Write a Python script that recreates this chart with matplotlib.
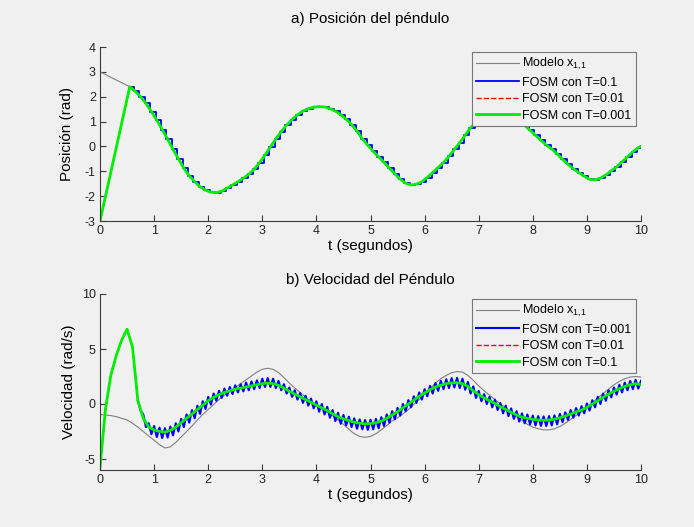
import numpy as np
import matplotlib
matplotlib.use("Agg")
import matplotlib.pyplot as plt
from matplotlib.transforms import offset_copy

plt.rcParams["font.family"] = ["Liberation Sans", "DejaVu Sans"]
plt.rcParams["mathtext.default"] = "regular"
plt.rcParams["axes.unicode_minus"] = False

# ---- a) posicion: t = 0, 0.55, 0.65, ..., 9.95, 10 ----
pos_t = np.r_[0.0, np.round(np.linspace(0.55, 9.95, 95), 2), 10.0]
pos_model_x0 = 3.0
pos_fosm_x0 = -3.0
pos_tail = [
    2.40, 2.22, 2.00, 1.73, 1.40,
    1.06, 0.68, 0.29, -0.12, -0.50, -0.88, -1.18, -1.42, -1.62, -1.76,
    -1.84, -1.86, -1.80, -1.68, -1.55, -1.42, -1.28, -1.12, -0.92, -0.65,
    -0.35, -0.02, 0.30, 0.60, 0.86, 1.08, 1.27, 1.42, 1.52, 1.58,
    1.60, 1.59, 1.52, 1.42, 1.28, 1.10, 0.88, 0.62, 0.30, 0.05,
    -0.20, -0.42, -0.64, -0.88, -1.10, -1.32, -1.48, -1.55, -1.52, -1.42,
    -1.25, -1.05, -0.85, -0.65, -0.40, -0.12, 0.15, 0.45, 0.75, 0.97,
    1.18, 1.32, 1.42, 1.45, 1.44, 1.36, 1.22, 1.05, 0.85, 0.65,
    0.45, 0.25, 0.05, -0.10, -0.30, -0.52, -0.72, -0.90, -1.05, -1.20,
    -1.32, -1.35, -1.28, -1.15, -0.98, -0.82, -0.62, -0.42, -0.22, -0.05,
    0.00,
]
pos_model = [pos_model_x0] + pos_tail
pos_fosm = [pos_fosm_x0] + pos_tail

# ---- b) velocidad: t = 0, 0.1, ..., 10 ----
vel_t = np.round(np.linspace(0, 10, 101), 2)
vel_model = [
    -0.95, -1.00, -1.05, -1.15, -1.30, -1.45, -1.75, -2.10, -2.50, -2.90,
    -3.30, -3.70, -4.00, -3.90, -3.50, -3.00, -2.50, -2.00, -1.45, -0.95,
    -0.50, -0.05, 0.40, 0.80, 1.15, 1.50, 1.85, 2.20, 2.55, 2.90,
    3.15, 3.25, 3.15, 2.85, 2.40, 1.90, 1.45, 1.05, 0.60, 0.20,
    -0.20, -0.45, -0.75, -1.05, -1.45, -1.85, -2.30, -2.70, -2.95, -3.03,
    -2.95, -2.70, -2.35, -1.95, -1.55, -1.25, -0.90, -0.50, -0.05, 0.40,
    0.90, 1.40, 1.90, 2.30, 2.60, 2.85, 2.95, 2.90, 2.60, 2.15,
    1.65, 1.20, 0.80, 0.40, 0.00, -0.35, -0.75, -1.15, -1.50, -1.85,
    -2.10, -2.25, -2.35, -2.35, -2.25, -2.05, -1.75, -1.40, -1.05, -0.70,
    -0.30, 0.10, 0.55, 0.95, 1.35, 1.75, 2.05, 2.30, 2.45, 2.50,
    2.45,
]
vel_fosm_t01 = [
    -5.80, -0.50, 2.60, 4.40, 5.80, 6.80, 5.20, 0.30, -1.30, -2.10,
    -2.35, -2.50, -2.55, -2.40, -2.10, -1.70, -1.30, -0.90, -0.50, -0.10,
    0.30, 0.60, 0.85, 1.05, 1.20, 1.35, 1.45, 1.55, 1.65, 1.75,
    1.85, 1.90, 1.85, 1.70, 1.45, 1.15, 0.90, 0.65, 0.40, 0.15,
    -0.10, -0.35, -0.60, -0.90, -1.15, -1.35, -1.50, -1.65, -1.75, -1.80,
    -1.78, -1.70, -1.55, -1.30, -1.00, -0.70, -0.35, 0.00, 0.35, 0.70,
    1.00, 1.30, 1.55, 1.72, 1.85, 1.92, 1.94, 1.85, 1.60, 1.20,
    0.85, 0.55, 0.30, 0.05, -0.25, -0.50, -0.75, -1.00, -1.20, -1.30,
    -1.40, -1.45, -1.48, -1.45, -1.38, -1.25, -1.10, -0.90, -0.72, -0.55,
    -0.30, 0.00, 0.30, 0.60, 0.90, 1.15, 1.40, 1.60, 1.75, 1.85,
    1.75,
]
# rizado de la estimacion: crestas en t = 0.7, 0.8, ..., 10 y valles en t = 0.75, ..., 9.95
ripple_t0 = 0.7
vel_fosm_t0001_peaks = [
    0.30, -0.95, -1.75,
    -2.00, -2.15, -2.20, -2.05, -1.75, -1.35, -0.95, -0.55, -0.15, 0.25,
    0.65, 0.95, 1.20, 1.40, 1.55, 1.70, 1.80, 1.95, 2.05, 2.15,
    2.30, 2.35, 2.30, 2.10, 1.80, 1.50, 1.25, 1.00, 0.75, 0.50,
    0.25, 0.00, -0.25, -0.55, -0.80, -1.00, -1.15, -1.30, -1.40, -1.45,
    -1.43, -1.35, -1.20, -0.95, -0.65, -0.35, 0.00, 0.35, 0.70, 1.05,
    1.35, 1.65, 1.90, 2.10, 2.25, 2.35, 2.38, 2.30, 2.00, 1.60,
    1.20, 0.90, 0.65, 0.40, 0.10, -0.15, -0.40, -0.65, -0.85, -0.95,
    -1.05, -1.10, -1.13, -1.10, -1.03, -0.90, -0.75, -0.55, -0.37, -0.20,
    0.05, 0.35, 0.65, 0.95, 1.25, 1.50, 1.75, 1.95, 2.10, 2.20,
    2.10,
]
vel_fosm_t0001_dips = [
    -0.60, -2.10, -2.75,
    -3.00, -3.10, -3.05, -2.85, -2.50, -2.10, -1.70, -1.30, -0.90, -0.45,
    -0.05, 0.30, 0.55, 0.75, 0.90, 1.05, 1.15, 1.25, 1.35, 1.45,
    1.55, 1.55, 1.45, 1.25, 0.95, 0.65, 0.40, 0.10, -0.15, -0.40,
    -0.70, -0.95, -1.25, -1.55, -1.80, -1.95, -2.10, -2.25, -2.30, -2.35,
    -2.30, -2.20, -2.00, -1.70, -1.40, -1.05, -0.65, -0.30, 0.10, 0.40,
    0.70, 0.95, 1.20, 1.35, 1.45, 1.50, 1.45, 1.30, 0.95, 0.55,
    0.25, 0.00, -0.30, -0.55, -0.85, -1.10, -1.35, -1.60, -1.75, -1.85,
    -1.95, -2.00, -2.00, -1.95, -1.85, -1.65, -1.45, -1.25, -1.05, -0.85,
    -0.60, -0.30, 0.00, 0.30, 0.60, 0.85, 1.05, 1.25, 1.35, 1.40,
]

n_pk = len(vel_fosm_t0001_peaks)
n_dp = len(vel_fosm_t0001_dips)
ripple_t = np.empty(n_pk + n_dp)
ripple_v = np.empty(n_pk + n_dp)
ripple_t[0::2] = ripple_t0 + 0.1 * np.arange(n_pk)
ripple_t[1::2] = ripple_t0 + 0.05 + 0.1 * np.arange(n_dp)
ripple_v[0::2] = vel_fosm_t0001_peaks
ripple_v[1::2] = vel_fosm_t0001_dips

BG = "#f0f0f0"
AXC = "#3a3a3a"
GRAY = "#808080"
BLUE = "#0000ff"
RED = "#ff0000"
GREEN = "#00ee00"
MODEL_LABEL = r"Modelo x$_{1{,}1}$"

fig = plt.figure(figsize=(6.94, 5.27), dpi=100, facecolor=BG)
ax1 = fig.add_axes([100 / 694, 1 - 221 / 527, 541 / 694, 174 / 527])
ax2 = fig.add_axes([100 / 694, 1 - 470 / 527, 541 / 694, 176 / 527])


def style(ax):
    ax.set_facecolor(BG)
    for s in ("top", "right"):
        ax.spines[s].set_visible(False)
    for s in ("left", "bottom"):
        ax.spines[s].set_color(AXC)
        ax.spines[s].set_linewidth(0.8)
    ax.tick_params(direction="in", length=4, width=0.8, colors=AXC,
                   labelsize=9, labelcolor="#222222", pad=3)
    ax.set_xlim(0, 10)
    ax.set_xticks(range(0, 11))


def legend(ax, handles):
    lg = ax.legend(handles=handles, loc="upper right", bbox_to_anchor=(1.0, 1.0),
                   borderaxespad=0.4, fontsize=9, frameon=True, fancybox=False,
                   framealpha=1, facecolor=BG, edgecolor="#777777",
                   handlelength=3.4, handletextpad=0.3, labelspacing=0.35,
                   borderpad=0.35)
    lg.get_frame().set_linewidth(0.8)


# a) posicion del pendulo
style(ax1)
# la muestra de T=0.1 va un poco retrasada respecto a la continua
lag = offset_copy(ax1.transData, fig=fig, x=1.1, y=0, units="points")
h0, = ax1.plot(pos_t, pos_model, color=GRAY, lw=0.8, label=MODEL_LABEL)
h1, = ax1.plot(pos_t[1:], pos_fosm[1:], color=BLUE, lw=1.3, drawstyle="steps-mid",
               transform=lag, label="FOSM con T=0.1")
h2, = ax1.plot(pos_t, pos_fosm, color=RED, lw=1.0, ls="--", label="FOSM con T=0.01")
h3, = ax1.plot(pos_t, pos_fosm, color=GREEN, lw=2.0, label="FOSM con T=0.001")
ax1.set_ylim(-3, 4)
ax1.set_yticks(range(-3, 5))
ax1.set_title("a) Posición del péndulo", fontsize=11, pad=17)
ax1.set_xlabel("t (segundos)", fontsize=11, labelpad=1)
ax1.set_ylabel("Posición (rad)", fontsize=11, labelpad=8)
legend(ax1, [h0, h1, h2, h3])

# b) velocidad del pendulo
style(ax2)
g0, = ax2.plot(vel_t, vel_model, color=GRAY, lw=0.8, label=MODEL_LABEL)
g1, = ax2.plot(ripple_t, ripple_v, color=BLUE, lw=1.5, label="FOSM con T=0.001")
g2, = ax2.plot(vel_t, vel_fosm_t01, color=RED, lw=1.0, ls="--", label="FOSM con T=0.01")
g3, = ax2.plot(vel_t, vel_fosm_t01, color=GREEN, lw=2.0, label="FOSM con T=0.1")
ax2.set_ylim(-6, 10)
ax2.set_yticks([-5, 0, 5, 10])
ax2.set_title("b) Velocidad del Péndulo", fontsize=11, pad=7)
ax2.set_xlabel("t (segundos)", fontsize=11, labelpad=1)
ax2.set_ylabel("Velocidad (rad/s)", fontsize=11, labelpad=4)
legend(ax2, [g0, g1, g2, g3])

fig.savefig("out.png", dpi=100, facecolor=BG)
